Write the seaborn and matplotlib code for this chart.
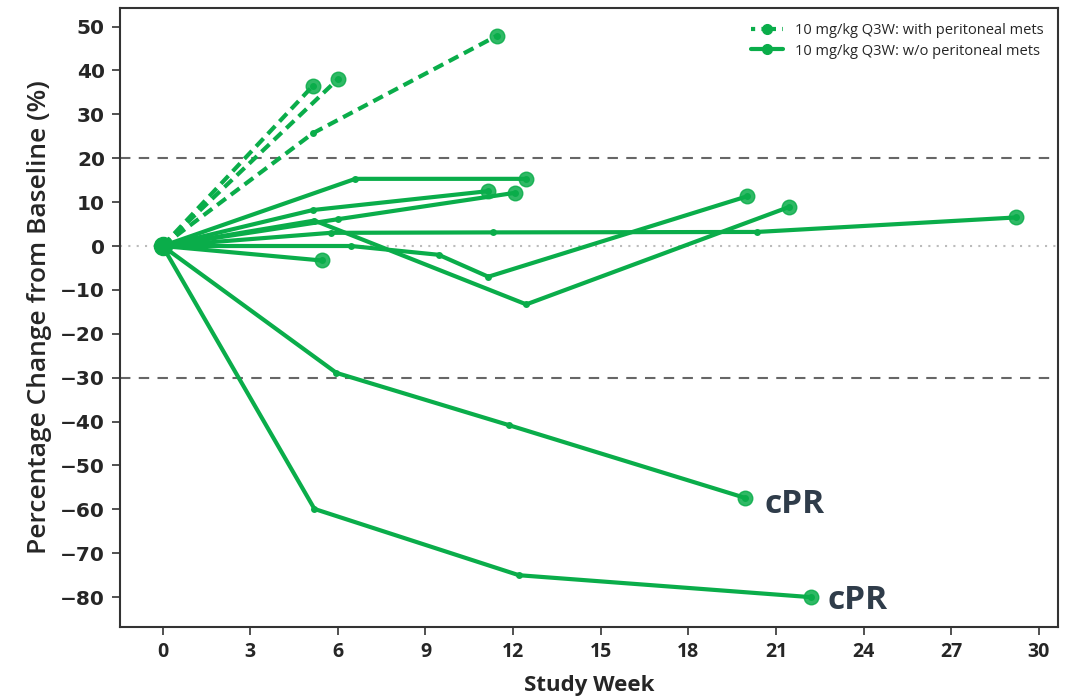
import pandas as pd
import matplotlib
matplotlib.use('Agg')
import matplotlib.pyplot as plt
from matplotlib.lines import Line2D
import seaborn as sns

# weeks / percentage change per patient
groups = ['with', 'with', 'with',
          'wo', 'wo', 'wo', 'wo', 'wo', 'wo', 'wo', 'wo', 'wo']
weeks = [
    [0, 5.15],
    [0, 6.0],
    [0, 5.15, 11.45],
    [0, 6.6, 12.45],
    [0, 5.15, 11.15],
    [0, 6.0, 12.05],
    [0, 5.2, 12.45, 21.45],
    [0, 5.75, 11.3, 20.35, 29.2],
    [0, 6.45, 9.45, 11.15, 20.0],
    [0, 5.45],
    [0, 5.95, 11.85, 19.95],
    [0, 5.2, 12.2, 22.2],
]
pct = [
    [0, 36.5],
    [0, 38.0],
    [0, 25.7, 47.9],
    [0, 15.3, 15.3],
    [0, 8.2, 12.5],
    [0, 6.1, 12.1],
    [0, 5.8, -13.3, 8.9],
    [0, 3.0, 3.1, 3.2, 6.5],
    [0, 0.0, -2.0, -7.0, 11.3],
    [0, -3.3],
    [0, -28.9, -40.8, -57.4],
    [0, -59.9, -75.0, -80.0],
]
cpr_weeks = [20.6, 22.75]
cpr_pct = [-58.8, -80.8]

green = '#0aad4a'

rows = []
for i, (g, w, p) in enumerate(zip(groups, weeks, pct)):
    for k, (x, y) in enumerate(zip(w, p)):
        rows.append({'pid': i, 'group': g, 'week': x, 'pct': y, 'last': k == len(w) - 1})
df = pd.DataFrame(rows)

sns.set_style('white')
fig = plt.figure(figsize=(10.73, 6.97), dpi=100)
ax = fig.add_axes([0.112, 0.1004, 0.874, 0.888])

ax.axhline(20, color='#666666', ls=(0, (5, 4)), lw=1.5, zorder=1)
ax.axhline(-30, color='#666666', ls=(0, (5, 4)), lw=1.5, zorder=1)
ax.axhline(0, color='#bbbbbb', ls=(0, (1, 3)), lw=1.5, zorder=1)

for g, ls in [('with', (0, (2.6, 1.5))), ('wo', '-')]:
    sub = df[df['group'] == g]
    sns.lineplot(data=sub, x='week', y='pct', units='pid', estimator=None,
                 color=green, lw=3, ls=ls, marker='o', markersize=5,
                 markeredgewidth=0, sort=False, ax=ax, zorder=3)

ends = df[df['last']]
sns.scatterplot(data=ends, x='week', y='pct', color=green, s=110,
                edgecolor=green, linewidth=1, alpha=0.85, ax=ax, zorder=4)
ax.scatter([0], [0], s=170, color=green, zorder=5)

for x, y in zip(cpr_weeks, cpr_pct):
    ax.text(x, y, 'cPR', fontsize=24, fontweight='bold', family='Open Sans',
            color='#2f3c4a', va='center', ha='left')

ax.set_xlim(-1.45, 30.65)
ax.set_ylim(-86.8, 54.2)
ax.set_xticks(range(0, 31, 3))
ax.set_yticks(range(-80, 51, 10))
ax.set_yticklabels([str(v).replace('-', '\u2212') for v in range(-80, 51, 10)],
                   fontsize=14.5, fontweight='bold', family='DejaVu Sans')
ax.set_xticklabels([str(v) for v in range(0, 31, 3)], fontsize=14,
                   fontweight='bold', family='Open Sans')
ax.tick_params(axis='both', direction='out', length=6, width=1.2, color='#333333',
               bottom=True, left=True, pad=5)
for s in ax.spines.values():
    s.set_color('#333333')
    s.set_linewidth(1.5)

ax.set_xlabel('Study Week', fontsize=16, fontweight='bold',
              family='Open Sans', labelpad=9)
ax.set_ylabel('Percentage Change from Baseline (%)', fontsize=19,
              family='Open Sans', fontweight='semibold', labelpad=6)

handles = [
    Line2D([], [], color=green, lw=3, ls=(0, (1, 1.5)), marker='o', markersize=7),
    Line2D([], [], color=green, lw=3, ls='-', marker='o', markersize=7),
]
labels = ['10 mg/kg Q3W: with peritoneal mets', '10 mg/kg Q3W: w/o peritoneal mets']
ax.legend(handles, labels, loc='upper right', frameon=False,
          prop={'family': 'Open Sans', 'size': 10.5}, handlelength=2.2,
          borderaxespad=0.6, labelspacing=0.4)

fig.savefig('out.png', dpi=100)
